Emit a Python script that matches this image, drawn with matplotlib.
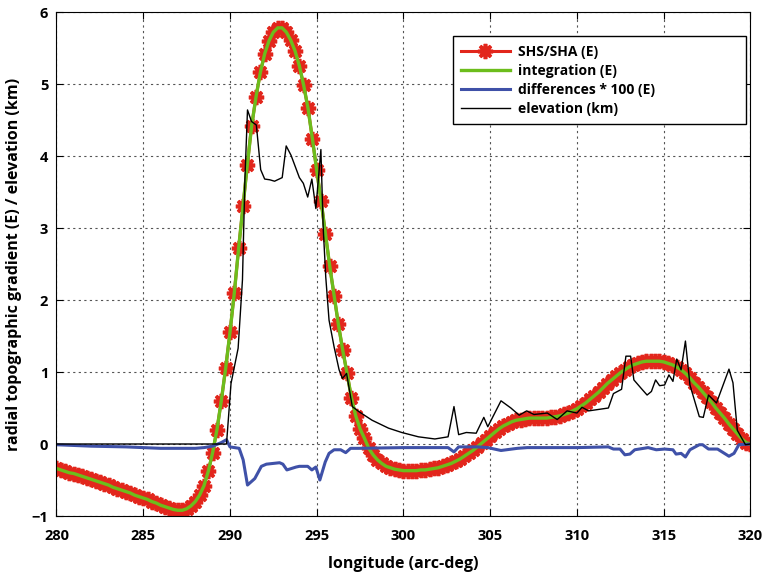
import numpy as np
import matplotlib
matplotlib.use("Agg")
import matplotlib.pyplot as plt

plt.rcParams["font.family"] = ["Open Sans", "DejaVu Sans"]
plt.rcParams["font.weight"] = "bold"

# gradient sampled every 0.25 arc-deg (SHS/SHA and integration coincide)
lon = np.arange(280, 320.001, 0.25)
grad = [
    -0.34, -0.36, -0.38, -0.40,
    -0.41, -0.43, -0.45, -0.47,
    -0.49, -0.51, -0.53, -0.55,
    -0.57, -0.60, -0.62, -0.64,
    -0.66, -0.68, -0.71, -0.73,
    -0.75, -0.77, -0.80, -0.82,
    -0.85, -0.87, -0.89, -0.91,
    -0.92, -0.92, -0.90, -0.86,
    -0.80, -0.71, -0.58, -0.38,
    -0.12, 0.20, 0.60, 1.05,
    1.55, 2.10, 2.72, 3.30,
    3.88, 4.42, 4.82, 5.16,
    5.42, 5.60, 5.72, 5.78,
    5.78, 5.72, 5.61, 5.46,
    5.25, 4.98, 4.66, 4.24,
    3.80, 3.38, 2.92, 2.47,
    2.06, 1.66, 1.30, 0.98,
    0.64, 0.39, 0.21, 0.08,
    -0.06, -0.15, -0.22, -0.27,
    -0.31, -0.33, -0.35, -0.36,
    -0.37, -0.37, -0.37, -0.37,
    -0.36, -0.36, -0.35, -0.34,
    -0.33, -0.31, -0.29, -0.27,
    -0.24, -0.21, -0.17, -0.13,
    -0.09, -0.04, 0.01, 0.06,
    0.11, 0.16, 0.21, 0.25,
    0.28, 0.31, 0.33, 0.34,
    0.35, 0.36, 0.36, 0.36,
    0.36, 0.36, 0.37, 0.38,
    0.39, 0.41, 0.43, 0.46,
    0.49, 0.53, 0.57, 0.62,
    0.67, 0.72, 0.78, 0.84,
    0.89, 0.94, 0.99, 1.03,
    1.07, 1.10, 1.12, 1.14,
    1.15, 1.15, 1.15, 1.15,
    1.14, 1.12, 1.10, 1.07,
    1.03, 0.98, 0.92, 0.85,
    0.79, 0.72, 0.65, 0.58,
    0.50, 0.43, 0.36, 0.28,
    0.21, 0.14, 0.07, 0.02,
    0.00,
]

# differences * 100
diff_lon = [280, 282, 284, 285, 286, 287, 288, 288.5, 289, 289.5, 289.8, 290.0,
            290.53, 290.76, 291.01, 291.43, 291.81, 292.1, 292.86, 293.05, 293.28,
            293.81, 294.0, 294.48, 294.72, 294.95, 295.18, 295.49, 295.71, 296.0,
            296.38, 296.67, 296.95, 297.43, 300, 302.57, 302.91, 303.18, 304.29,
            304.86, 305.62, 306.57, 307.14, 308.86, 310.0, 311.81, 312.1, 312.48,
            312.76, 313.05, 313.33, 314.1, 314.57, 315.05, 315.53, 315.71, 316.0,
            316.25, 316.51, 317.05, 317.24, 317.58, 318.1, 318.76, 319.05, 319.33, 320]
diff = [-0.01, -0.03, -0.04, -0.05, -0.06, -0.06, -0.06, -0.05, -0.03, 0.02, 0.06, -0.04,
        -0.06, -0.22, -0.57, -0.48, -0.31, -0.28, -0.26, -0.28, -0.36,
        -0.32, -0.31, -0.31, -0.36, -0.32, -0.50, -0.25, -0.13, -0.08,
        -0.08, -0.12, -0.06, -0.06, -0.05, -0.05, -0.11, -0.04, -0.04,
        -0.05, -0.09, -0.06, -0.05, -0.05, -0.05, -0.04, -0.07, -0.07,
        -0.15, -0.14, -0.08, -0.05, -0.08, -0.07, -0.08, -0.14, -0.13,
        -0.18, -0.08, -0.01, -0.01, -0.07, -0.07, -0.17, -0.13, -0.01, 0.0]

# elevation (km)
elev_lon = [280, 289.8, 290.06, 290.47, 290.72, 290.86, 291.01, 291.24, 291.52, 291.77,
            292.0, 292.29, 292.57, 293.01, 293.24, 293.52, 294.0, 294.23, 294.48, 294.72,
            294.95, 295.24, 295.37, 295.52, 295.71, 296.0, 296.29, 296.48, 296.72, 297.05,
            297.43, 298.19, 299.14, 299.9, 300.86, 301.81, 302.57, 302.91, 303.18, 303.62,
            304.19, 304.63, 304.86, 305.62, 306.19, 306.67, 307.1, 307.52, 308.29, 308.86,
            309.43, 310.0, 310.29, 310.67, 311.81, 312.1, 312.57, 312.82, 313.09, 313.28,
            313.71, 314.04, 314.29, 314.53, 314.76, 315.05, 315.3, 315.53, 315.75, 316.0,
            316.25, 316.51, 317.05, 317.28, 317.58, 318.04, 318.76, 318.99, 319.24, 319.71, 320]
elev = [0, 0, 0.84, 1.33, 2.28, 3.67, 4.64, 4.48, 4.43, 3.81,
        3.68, 3.67, 3.65, 3.70, 4.14, 4.01, 3.70, 3.62, 3.43, 3.68,
        3.27, 4.09, 3.02, 2.32, 1.72, 1.35, 1.03, 0.91, 0.98, 0.52,
        0.45, 0.33, 0.22, 0.16, 0.10, 0.07, 0.10, 0.52, 0.13, 0.16,
        0.15, 0.37, 0.24, 0.60, 0.50, 0.40, 0.46, 0.41, 0.43, 0.34,
        0.46, 0.43, 0.51, 0.46, 0.50, 0.70, 0.76, 1.22, 1.22, 0.89,
        0.77, 0.68, 0.73, 0.89, 0.81, 0.82, 0.96, 0.87, 1.18, 1.03,
        1.43, 0.82, 0.38, 0.37, 0.68, 0.57, 1.04, 0.85, 0.19, -0.01, 0.0]

fig = plt.figure(figsize=(7.62, 5.75), dpi=100)
ax = fig.add_axes([0.0741, 0.1026, 0.9108, 0.8765])

ax.plot(lon, grad, color="#e2261c", lw=2.2, marker=(8, 2, 0), ms=11, mew=2.6,
        label="SHS/SHA (E)")
ax.plot(lon, grad, color="#6cbd1c", lw=2.4, label="integration (E)")
ax.plot(diff_lon, diff, color="#3f51a8", lw=2.2, label="differences * 100 (E)")
ax.plot(elev_lon, elev, color="black", lw=1, label="elevation (km)")

ax.set_xlim(280, 320)
ax.set_ylim(-1, 6)
ax.set_xticks(range(280, 321, 5))
ax.set_yticks(range(-1, 7))
ax.grid(True, linestyle=(0, (2, 3)), color="#555555", lw=0.8)
ax.tick_params(direction="in", top=True, right=True, labelsize=10.5, length=5)
ax.tick_params(axis="x", pad=9)
ax.tick_params(axis="y", pad=6)
for lab in ax.get_xticklabels() + ax.get_yticklabels():
    lab.set_fontweight("bold")

ax.set_xlabel("longitude (arc-deg)", fontsize=11.5, fontweight="bold", labelpad=10)
ax.set_ylabel("radial topographic gradient (E) / elevation (km)", fontsize=11.5,
              fontweight="bold", labelpad=7)

leg = ax.legend(loc="upper left", bbox_to_anchor=(0.571, 0.77, 0.423, 0.182),
                mode="expand", fontsize=10, fancybox=False, framealpha=1,
                edgecolor="black", handlelength=3.5, handletextpad=0.6,
                borderpad=0.6, labelspacing=0.36, borderaxespad=0)
leg.get_frame().set_linewidth(1)

fig.savefig("out.png", dpi=100)
